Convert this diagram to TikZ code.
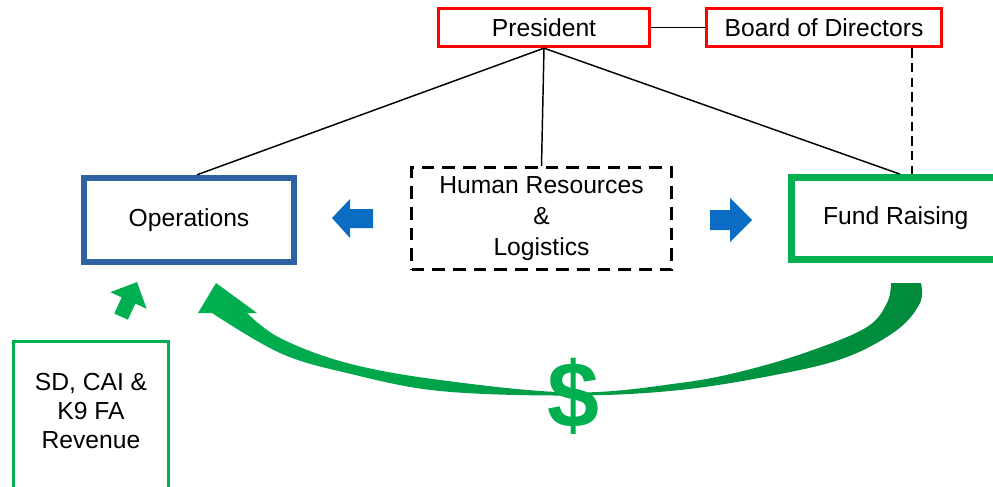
\documentclass[tikz,border=0pt]{standalone}
\usepackage{fontspec}
\setmainfont{Liberation Sans}
\definecolor{boxred}{HTML}{FF0000}
\definecolor{opsblue}{HTML}{2E62A3}
\definecolor{arrowblue}{HTML}{0A6CC2}
\definecolor{cashgreen}{HTML}{00B050}
\definecolor{deepgreen}{HTML}{008A3C}
\begin{document}
\begin{tikzpicture}[x=0.75pt,y=-0.75pt,
  lbl/.style={font=\fontsize{18.5}{23.25}\selectfont, align=center, inner sep=0pt},
  redbox/.style={lbl, rectangle, draw=boxred, line width=2.5pt, minimum height=28.5pt},
  opsbox/.style={lbl, rectangle, draw=opsblue, line width=4.8pt, minimum width=157.5pt, minimum height=63pt},
  hrbox/.style={lbl, rectangle, draw=black, line width=2.3pt, dash pattern=on 9.5pt off 6pt,
                minimum width=195pt, minimum height=76.5pt},
  fundbox/.style={lbl, rectangle, draw=cashgreen, line width=5.2pt, minimum width=156.4pt, minimum height=61.5pt},
  revbox/.style={rectangle, draw=cashgreen, line width=2.25pt, minimum width=116.25pt, minimum height=120pt, inner sep=0pt},
  link/.style={draw=black, line width=1.1pt},
  dashlink/.style={draw=black, line width=1.1pt, dash pattern=on 7pt off 4pt},
  bluearrow/.style={fill=arrowblue},
  greenarrow/.style={fill=cashgreen}
]
\useasboundingbox (0,0) rectangle (993,486);

% top level
\node[redbox, minimum width=158.25pt] (pres) at (544,27.5) {President};
\node[redbox, minimum width=176.25pt] (bod) at (824,27.5) {Board of Directors};

% departments
\node[opsbox] (ops) at (189,220) {Operations};
\node[hrbox] (hr) at (541.5,218.5) {Human Resources\\\&\\Logistics};
\node[fundbox] (fr) at (895.75,218.5) {Fund Raising};

% outside revenue
\node[revbox, anchor=north] (rev) at (91,339.5) {};
\node[lbl, align=center, font=\fontsize{18.5}{21.75}\selectfont] (revtext) at (91,411) {SD, CAI \&\\K9 FA\\Revenue};

% reporting lines
\draw[link] (pres.east) -- (bod.west);
\draw[link] (pres.south) -- ([xshift=6pt]ops.north);
\draw[link] (pres.south) -- (hr.north);
\draw[link] (pres.south) -- ([xshift=3pt]fr.north);
\draw[dashlink] ([xshift=66pt]bod.south) -- ([xshift=66pt]bod.south |- fr.north);

% support arrows from HR & Logistics
\fill[bluearrow] (332,218) -- (350,199) -- (350,209) -- (373,209) -- (373,228) -- (350,228) -- (350,238) -- cycle;
\fill[bluearrow] (752,220) -- (730,198) -- (730,210) -- (710,210) -- (710,230) -- (730,230) -- (730,242) -- cycle;

% revenue arrow into Operations
\fill[greenarrow] (137,282) -- (146.6,308.8) -- (135.3,303.6) -- (127.9,319.7) -- (114.3,313.5) -- (121.7,297.4) -- (110.4,292.2) -- cycle;

% funds flowing from Fund Raising back to Operations
\shade[left color=cashgreen, middle color=cashgreen!97!black, right color=deepgreen]
  plot[smooth, tension=0.6] coordinates {(921,283) (920,303) (897,330) (847,357) (780,374) (680,390) (573,395.5) (440,391) (347,373) (280,353) (212,313)}
  -- (198,313) -- (216,283) -- (257,313) -- (247,313)
  -- plot[smooth, tension=0.6] coordinates {(247,313) (280,338) (347,363) (440,380) (573,392.5) (680,383) (747,370) (813,350) (867,327) (887,303) (891,283)}
  -- cycle;

\node[font=\fontsize{70}{70}\bfseries, text=cashgreen, inner sep=0pt] (cash) at (573,396) {\$};
\end{tikzpicture}
\end{document}
